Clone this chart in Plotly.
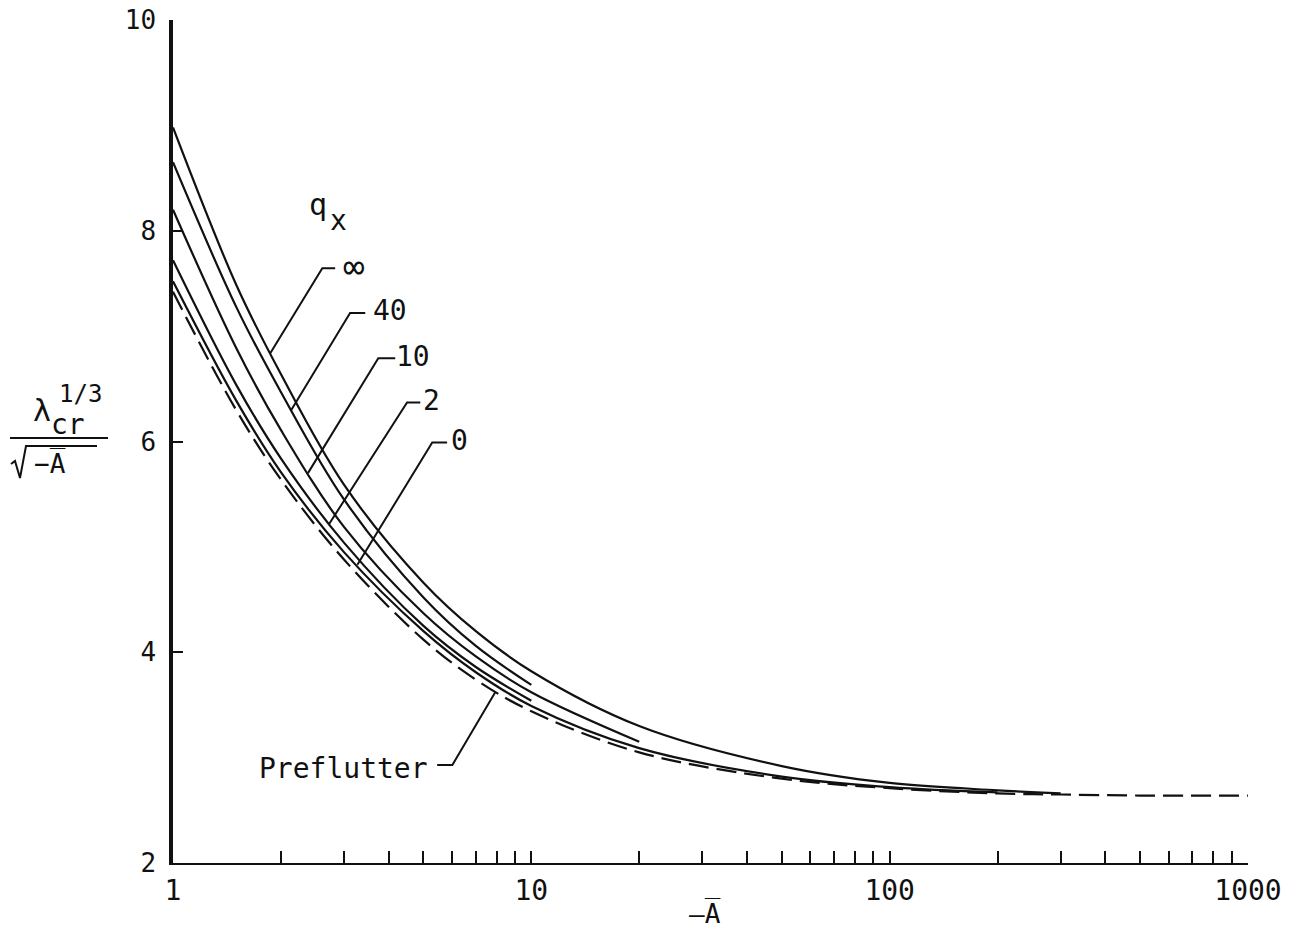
import plotly.graph_objects as go
import math

# ---------------- data ----------------
x_inf = [1, 1.5, 2, 3, 5, 7, 10, 20, 50, 100, 200, 300]
y_inf = [8.98, 7.49, 6.64, 5.59, 4.66, 4.20, 3.82, 3.30, 2.92, 2.76, 2.69, 2.66]

x_q40 = [1, 1.5, 2, 3, 5, 7, 10]
y_q40 = [8.65, 7.28, 6.47, 5.45, 4.52, 4.06, 3.69]

x_q10 = [1, 1.5, 2, 3, 5, 7, 10, 20]
y_q10 = [8.20, 6.89, 6.11, 5.19, 4.37, 3.96, 3.62, 3.15]

x_q2 = [1, 1.5, 2, 3, 5, 7, 10]
y_q2 = [7.72, 6.54, 5.84, 5.04, 4.25, 3.86, 3.54]

x_q0 = [1, 1.5, 2, 3, 5, 7, 10, 20, 50, 100, 200]
y_q0 = [7.52, 6.39, 5.71, 4.95, 4.20, 3.81, 3.49, 3.09, 2.82, 2.72, 2.67]

x_pre = [1, 1.5, 2, 3, 5, 7, 10, 20, 50, 100, 200, 300, 500, 1000]
y_pre = [7.42, 6.30, 5.64, 4.88, 4.12, 3.74, 3.44, 3.05, 2.80, 2.71, 2.66, 2.65, 2.64, 2.64]

curve_labels = ["\u221e", "40", "10", "2", "0"]

x_tickvals = [m * 10 ** d for d in range(3) for m in range(1, 10)] + [1000]
x_ticktext = [str(v) if v in (1, 10, 100, 1000) else "" for v in x_tickvals]
y_tickvals = [2, 4, 6, 8, 10]

# ---------------- layout helpers ----------------
W, H = 1301, 936
PX0, PX1, PY0, PY1 = 173, 1248, 20, 863   # plot area in page pixels
L, T = PX0, PY0
PW, PH = PX1 - PX0, PY1 - PY0
R, B = W - L - PW, H - T - PH

def px(xp):
    return (xp - PX0) / PW

def py(yp):
    return (PY1 - yp) / PH

FONT = "DejaVu Sans Mono"
BLACK = "#111111"

fig = go.Figure()

solid = dict(color=BLACK, width=2.2, shape="spline", smoothing=1.0)
for xs, ys in [(x_inf, y_inf), (x_q40, y_q40), (x_q10, y_q10), (x_q2, y_q2), (x_q0, y_q0)]:
    fig.add_trace(go.Scatter(x=xs, y=ys, mode="lines", line=solid,
                             showlegend=False, hoverinfo="skip"))
fig.add_trace(go.Scatter(x=x_pre, y=y_pre, mode="lines",
                         line=dict(color=BLACK, width=2.2, shape="spline",
                                   smoothing=1.0, dash="20px,8px"),
                         showlegend=False, hoverinfo="skip"))

# leader lines: (curve point, elbow, horizontal end) in data units
leaders = [
    [(1.87, 6.84), (2.61, 7.645), (2.835, 7.645)],
    [(2.13, 6.29), (3.12, 7.22), (3.44, 7.22)],
    [(2.38, 5.70), (3.74, 6.79), (4.17, 6.79)],
    [(2.73, 5.22), (4.50, 6.37), (4.90, 6.37)],
    [(3.27, 4.83), (5.29, 5.99), (5.82, 5.99)],
    [(7.93, 3.62), (6.02, 2.93), (5.46, 2.93)],
]
for pts in leaders:
    fig.add_trace(go.Scatter(x=[p[0] for p in pts], y=[p[1] for p in pts],
                             mode="lines", line=dict(color=BLACK, width=2),
                             showlegend=False, hoverinfo="skip"))

label_pos = [(3.20, 7.66), (4.02, 7.24), (4.68, 6.81), (5.25, 6.39), (6.32, 6.01)]
label_size = [36, 28, 28, 28, 28]
annotations = []
for txt, (lx, ly), fs in zip(curve_labels, label_pos, label_size):
    annotations.append(dict(x=math.log10(lx), y=ly, xref="x", yref="y", text=txt,
                            showarrow=False, xanchor="center", yanchor="middle",
                            font=dict(family=FONT, size=fs, color=BLACK)))
annotations.append(dict(x=px(343), y=py(768), xref="paper", yref="paper", text="Preflutter",
                        showarrow=False, xanchor="center", yanchor="middle",
                        font=dict(family=FONT, size=28, color=BLACK)))
annotations.append(dict(x=px(318), y=py(205), xref="paper", yref="paper",
                        text="q", showarrow=False, xanchor="center", yanchor="middle",
                        font=dict(family=FONT, size=30, color=BLACK)))
annotations.append(dict(x=px(338), y=py(220), xref="paper", yref="paper",
                        text="x", showarrow=False, xanchor="center", yanchor="middle",
                        font=dict(family=FONT, size=28, color=BLACK)))

# x-axis title
annotations.append(dict(x=px(705), y=py(913), xref="paper", yref="paper",
                        text="\u2014A\u0305", showarrow=False,
                        xanchor="center", yanchor="middle",
                        font=dict(family=FONT, size=26, color=BLACK)))
# y-axis title pieces
annotations += [
    dict(x=px(42), y=py(411), xref="paper", yref="paper", text="\u03bb", showarrow=False,
         xanchor="center", yanchor="middle", font=dict(family=FONT, size=30, color=BLACK)),
    dict(x=px(68), y=py(424), xref="paper", yref="paper", text="cr", showarrow=False,
         xanchor="center", yanchor="middle", font=dict(family=FONT, size=28, color=BLACK)),
    dict(x=px(80), y=py(394), xref="paper", yref="paper", text="1/3", showarrow=False,
         xanchor="center", yanchor="middle", font=dict(family=FONT, size=24, color=BLACK)),
    dict(x=px(50), y=py(463), xref="paper", yref="paper", text="\u2212A\u0305", showarrow=False,
         xanchor="center", yanchor="middle", font=dict(family=FONT, size=26, color=BLACK)),
]

def ppath(points):
    return "M " + " L ".join(f"{px(a):.5f},{py(b):.5f}" for a, b in points)

shapes = [
    dict(type="line", xref="paper", yref="paper", x0=px(10), x1=px(108),
         y0=py(438), y1=py(438), line=dict(color=BLACK, width=2)),
    dict(type="path", xref="paper", yref="paper",
         path=ppath([(11, 464), (15, 461), (20, 478), (26, 446), (97, 446)]),
         line=dict(color=BLACK, width=2)),
]

fig.update_layout(
    width=W, height=H,
    margin=dict(l=L, r=R, t=T, b=B, autoexpand=False),
    paper_bgcolor="white", plot_bgcolor="white",
    annotations=annotations, shapes=shapes,
    xaxis=dict(type="log", range=[0, 3], showgrid=False, zeroline=False,
               automargin=False, ticklabeloverflow="allow",
               showline=True, linecolor=BLACK, linewidth=1.5,
               tickmode="array", tickvals=x_tickvals, ticktext=x_ticktext,
               ticks="inside", ticklen=12, tickwidth=2, tickcolor=BLACK,
               tickfont=dict(family=FONT, size=28, color=BLACK),
               ticklabelstandoff=2),
    yaxis=dict(range=[2, 10], showgrid=False, zeroline=False,
               automargin=False, ticklabeloverflow="allow",
               showline=True, linecolor=BLACK, linewidth=3.5,
               tickmode="array", tickvals=y_tickvals,
               ticks="inside", ticklen=10, tickwidth=2, tickcolor=BLACK,
               tickfont=dict(family=FONT, size=26, color=BLACK),
               ticklabelstandoff=8),
)

fig.write_html("out.html",
               config={"displayModeBar": False},
               post_script="document.body.style.margin='0px';"
                           "document.body.style.overflow='hidden';")
